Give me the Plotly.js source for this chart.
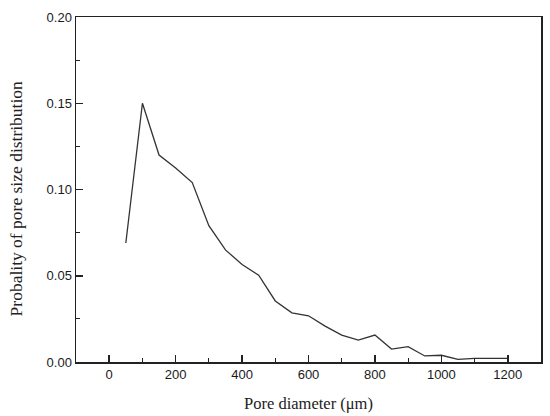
<!DOCTYPE html>
<html>
<head>
<meta charset="utf-8">
<script src="https://cdn.plot.ly/plotly-3.0.1.min.js"></script>
<style>html,body{margin:0;padding:0;background:#fff;}#chart{width:550px;height:416px;}</style>
</head>
<body>
<div id="chart"></div>
<script>
const poreDiameter = [50,100,150,200,250,300,350,400,450,500,550,600,650,700,750,800,850,900,950,1000,1050,1100,1150,1200];
const probability = [0.069,0.150,0.120,0.1125,0.104,0.079,0.065,0.0565,0.0503,0.0354,0.0285,0.0268,0.0208,0.0156,0.0127,0.0156,0.0075,0.0089,0.0035,0.0039,0.0015,0.0021,0.0021,0.0021];
const xTitle = 'Pore diameter (μm)';
const yTitle = 'Probality of pore size distribution';

const axisCommon = {
  showgrid: false, zeroline: false, showline: true, mirror: true,
  linecolor: '#222', linewidth: 1.5,
  ticks: 'inside', ticklen: 7, tickwidth: 1.5, tickcolor: '#222',
  tickfont: {family: 'Liberation Sans, Arial, sans-serif', size: 13, color: '#1a1a1a'}
};

Plotly.newPlot('chart', [{
  x: poreDiameter, y: probability, type: 'scatter', mode: 'lines',
  line: {color: '#333', width: 1.3}
}], {
  width: 550, height: 416,
  margin: {l: 76, r: 9, t: 17, b: 54},
  paper_bgcolor: '#fff', plot_bgcolor: '#fff',
  showlegend: false,
  xaxis: Object.assign({}, axisCommon, {
    range: [-100, 1300], dtick: 200, tick0: 0,
    minor: {dtick: 100, tick0: 0, ticks: 'inside', ticklen: 4, tickwidth: 1.2, tickcolor: '#222'},
    title: {text: xTitle, font: {family: 'Liberation Serif, Times New Roman, serif', size: 16.5, color: '#222'}, standoff: 16}
  }),
  yaxis: Object.assign({}, axisCommon, {
    range: [0, 0.20], dtick: 0.05, tickformat: '.2f',
    minor: {dtick: 0.025, ticks: 'inside', ticklen: 4, tickwidth: 1.2, tickcolor: '#222'}
  }),
  annotations: [{
    text: yTitle, xref: 'paper', yref: 'paper', x: -0.127, y: 0.474,
    xanchor: 'center', yanchor: 'middle', textangle: -90, showarrow: false,
    font: {family: 'Liberation Serif, Times New Roman, serif', size: 17.5, color: '#222'}
  }]
}, {displayModeBar: false, staticPlot: true});
</script>
</body>
</html>
